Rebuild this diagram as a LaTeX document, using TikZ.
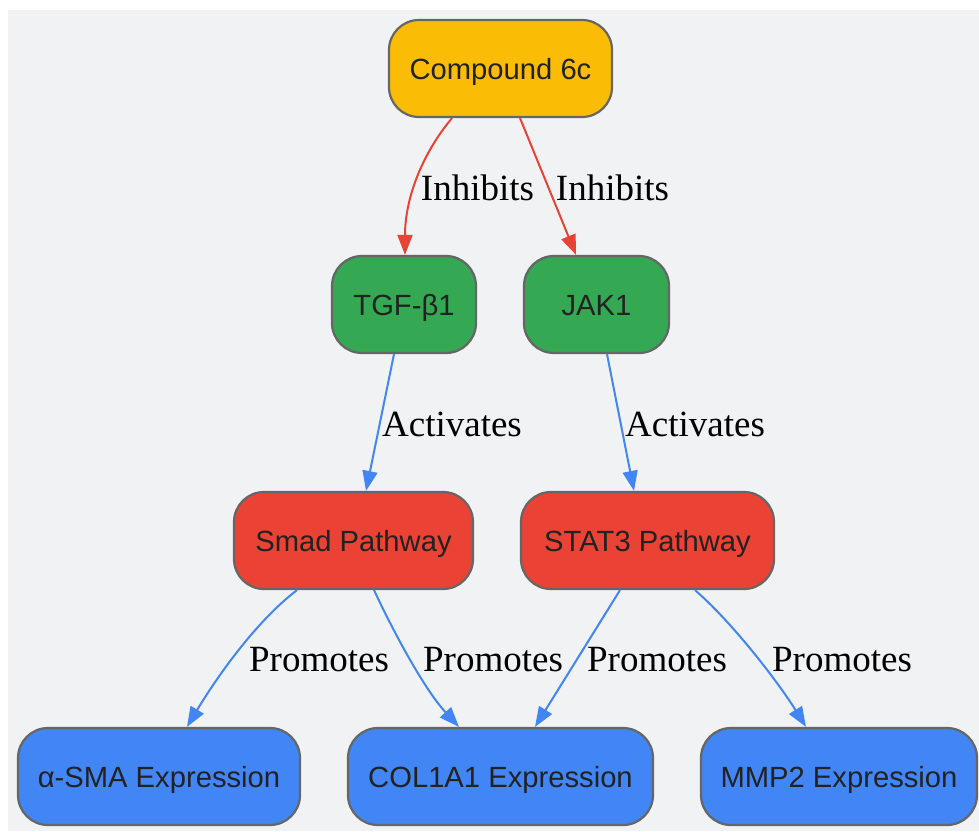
\documentclass[tikz,border=0pt]{standalone}
\usepackage{fontspec}
\setmainfont{Liberation Serif}
\newfontfamily\nodefont{Liberation Sans}
\usetikzlibrary{arrows.meta}
\definecolor{bgc}{HTML}{F1F2F4}
\definecolor{ycol}{HTML}{FBBC05}
\definecolor{gcol}{HTML}{34A853}
\definecolor{rcol}{HTML}{EA4335}
\definecolor{bcol}{HTML}{4285F4}
\definecolor{bord}{HTML}{666666}
\definecolor{txt}{HTML}{222222}
\tikzset{
  box/.style={draw=bord, line width=2.2pt, rounded corners=30pt, inner sep=0pt,
    minimum height=97pt, text=txt, text height=21pt, text depth=0pt,
    font=\nodefont\fontsize{29.2}{34}\selectfont},
  ybox/.style={box, fill=ycol},
  gbox/.style={box, fill=gcol},
  rbox/.style={box, fill=rcol},
  bbox/.style={box, fill=bcol},
  inh/.style={draw=rcol, line width=2pt, -{Triangle[length=20pt,width=15pt]}},
  act/.style={draw=bcol, line width=2pt, -{Triangle[length=20pt,width=15pt]}},
  lbl/.style={font=\fontsize{37}{40}\selectfont, text=black, inner sep=0pt}
}
\begin{document}
\begin{tikzpicture}[x=1pt,y=-1pt]
\useasboundingbox (0,0) rectangle (979,831);
\fill[bgc] (8,10) rectangle (979,831);
\node[ybox, minimum width=223pt] (cmp) at (500.5,68.5) {Compound 6c};
\node[gbox, minimum width=144pt] (tgf) at (404,304.5) {TGF-β1};
\node[gbox, minimum width=145pt] (jak) at (596.5,304.5) {JAK1};
\node[rbox, minimum width=239pt] (smad) at (353.5,540.5) {Smad Pathway};
\node[rbox, minimum width=253pt] (stat) at (647.5,540.5) {STAT3 Pathway};
\node[bbox, minimum width=282pt] (sma) at (159,776.5) {α-SMA Expression};
\node[bbox, minimum width=305pt] (col) at (500.5,776.5) {COL1A1 Expression};
\node[bbox, minimum width=276pt] (mmp) at (839,776.5) {MMP2 Expression};

\draw[inh] ([xshift=-48.5pt]cmp.south) .. controls (425,150) and (405,195) .. ([xshift=1pt]tgf.north)
  node[lbl] at (477.5,188) {Inhibits};
\draw[inh] ([xshift=19.5pt]cmp.south) -- ([xshift=-20.5pt]jak.north)
  node[lbl] at (612.5,188) {Inhibits};
\draw[act] ([xshift=-10pt]tgf.south) -- ([xshift=12.5pt]smad.north)
  node[lbl] at (452,424) {Activates};
\draw[act] ([xshift=10.5pt]jak.south) -- ([xshift=-13.5pt]stat.north)
  node[lbl] at (695,424) {Activates};
\draw[act] ([xshift=-56.5pt]smad.south) .. controls (255,622) and (215,680) .. ([xshift=28pt]sma.north)
  node[lbl] at (319,660) {Promotes};
\draw[act] ([xshift=20.5pt]smad.south) .. controls (395,635) and (425,690) .. ([xshift=-41.5pt]col.north)
  node[lbl] at (493,660) {Promotes};
\draw[act] ([xshift=-27.5pt]stat.south) -- ([xshift=34.5pt]col.north)
  node[lbl] at (657,660) {Promotes};
\draw[act] ([xshift=47.5pt]stat.south) .. controls (735,625) and (780,685) .. ([xshift=-33pt]mmp.north)
  node[lbl] at (842,660) {Promotes};
\end{tikzpicture}
\end{document}
